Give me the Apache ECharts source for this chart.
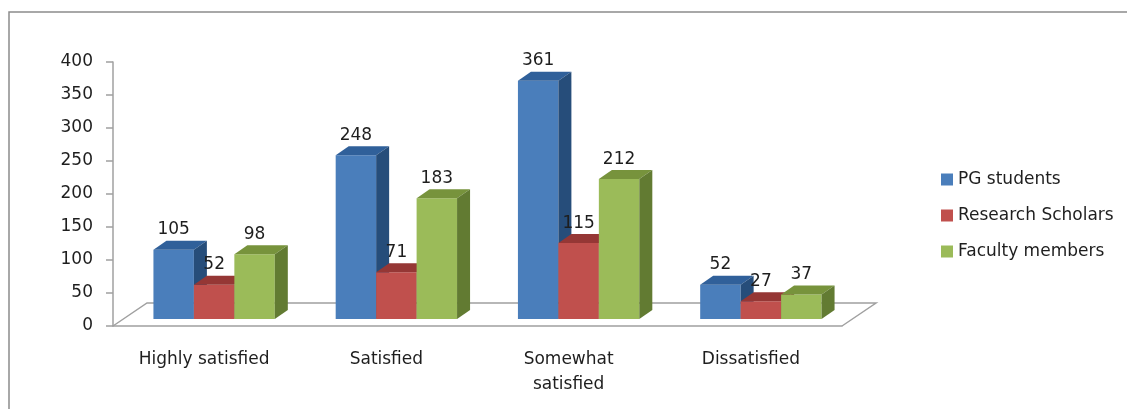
<!DOCTYPE html>
<html>
<head>
<meta charset="utf-8">
<script src="https://cdn.jsdelivr.net/npm/echarts@6/dist/echarts.min.js"></script>
<style>
  html, body { margin: 0; padding: 0; background: #fff; }
  #chart { width: 1127px; height: 409px; }
</style>
</head>
<body>
<div id="chart"></div>
<script>
// ---- data ----
const categories = ['Highly satisfied', 'Satisfied', 'Somewhat\nsatisfied', 'Dissatisfied'];
const seriesNames = ['PG students', 'Research Scholars', 'Faculty members'];
const pgStudents = [105, 248, 361, 52];
const researchScholars = [52, 71, 115, 27];
const facultyMembers = [98, 183, 212, 37];
const yTicks = [0, 50, 100, 150, 200, 250, 300, 350, 400];

// ---- 3D look ----
const palette = [
  { front: '#4a7ebb', top: '#30609a', side: '#264d7a' },
  { front: '#c0504d', top: '#953735', side: '#7a2e2c' },
  { front: '#9bbb59', top: '#77933c', side: '#627b32' }
];
const SHIFT_X = 10, SHIFT_Y = -7;   // bars sit half way into the floor
const DX = 13, DY = -9;             // bar depth
const FLOOR_DX = 34, FLOOR_DY = -23;
const FONT = 'DejaVu Sans';
const TEXT = '#1e1e1e';

const chart = echarts.init(document.getElementById('chart'));

function barRenderer(s) {
  return function (params, api) {
    const cat = api.value(0);
    const val = api.value(1);
    const top = api.coord([cat, val]);
    const base = api.coord([cat, 0]);
    const barW = api.size([1, 0])[0] * 0.222;
    const x0 = top[0] + SHIFT_X + (s - 1.5) * barW;
    const yTop = top[1] + SHIFT_Y;
    const yBot = base[1] + SHIFT_Y;
    const c = palette[s];
    return {
      type: 'group',
      children: [
        { type: 'rect', shape: { x: x0, y: yTop, width: barW, height: yBot - yTop },
          style: { fill: c.front } },
        { type: 'polygon', shape: { points: [[x0, yTop], [x0 + barW, yTop], [x0 + barW + DX, yTop + DY], [x0 + DX, yTop + DY]] },
          style: { fill: c.top } },
        { type: 'polygon', shape: { points: [[x0 + barW, yTop], [x0 + barW + DX, yTop + DY], [x0 + barW + DX, yBot + DY], [x0 + barW, yBot]] },
          style: { fill: c.side } },
        { type: 'text', x: x0 + barW / 2, y: yTop - 20,
          style: { text: String(val), fill: TEXT, font: '17px "' + FONT + '"', align: 'center', verticalAlign: 'middle' } }
      ]
    };
  };
}

function floorRenderer(params, api) {
  const cs = params.coordSys;
  const y = cs.y + cs.height;
  return {
    type: 'polyline',
    shape: { points: [[cs.x, y], [cs.x + FLOOR_DX, y + FLOOR_DY], [cs.x + cs.width + FLOOR_DX, y + FLOOR_DY], [cs.x + cs.width, y]] },
    style: { stroke: '#a0a0a0', lineWidth: 1.5, fill: null }
  };
}

const values = [pgStudents, researchScholars, facultyMembers];

const option = {
  animation: false,
  textStyle: { fontFamily: FONT },
  graphic: [{
    type: 'rect', shape: { x: 9, y: 12, width: 1130, height: 410 },
    style: { fill: null, stroke: '#8c8c8c', lineWidth: 1.5 }, silent: true
  }],
  grid: { left: 113, top: 62, width: 729, height: 264 },
  legend: {
    orient: 'vertical', left: 941, top: 171, padding: 0,
    itemWidth: 12, itemHeight: 12, itemGap: 19, icon: 'rect',
    textStyle: { fontSize: 17, color: TEXT, fontFamily: FONT },
    data: seriesNames
  },
  xAxis: {
    type: 'category', data: categories,
    axisLine: { lineStyle: { color: '#a0a0a0', width: 1.5 } },
    axisTick: { length: 6, lineStyle: { color: '#a0a0a0', width: 1.5 } },
    axisLabel: { fontSize: 17, color: TEXT, margin: 21, lineHeight: 25, fontFamily: FONT }
  },
  yAxis: {
    type: 'value', min: yTicks[0], max: yTicks[yTicks.length - 1], interval: 50,
    axisLine: { show: true, lineStyle: { color: '#a0a0a0', width: 1.5 } },
    axisTick: { show: true, length: 7, lineStyle: { color: '#a0a0a0', width: 1.5 } },
    axisLabel: { fontSize: 17, color: TEXT, margin: 20, fontFamily: FONT },
    splitLine: { show: false }
  },
  series: [
    { type: 'custom', name: 'floor', renderItem: floorRenderer, data: [[0, 0]], silent: true, z: 1 }
  ].concat(seriesNames.map((name, s) => ({
    type: 'custom',
    name: name,
    itemStyle: { color: palette[s].front },
    renderItem: barRenderer(s),
    encode: { x: 0, y: 1 },
    data: values[s].map((v, i) => [i, v]),
    z: 2 + s
  })))
};

chart.setOption(option);
</script>
</body>
</html>
